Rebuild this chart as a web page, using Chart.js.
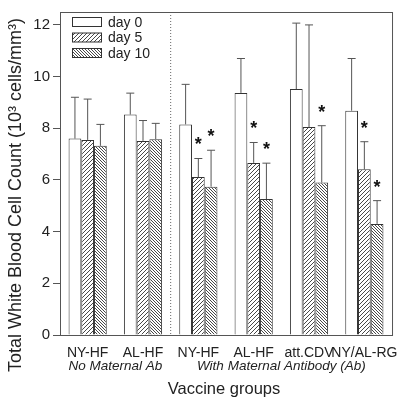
<!DOCTYPE html>
<html>
<head>
<meta charset="utf-8">
<script src="https://cdn.jsdelivr.net/npm/chart.js@4/dist/chart.umd.min.js"></script>
<style>
  html, body { margin: 0; padding: 0; background: #fff; }
  #wrap { width: 400px; height: 403px; }
</style>
</head>
<body>
<div id="wrap"><canvas id="wbcChart" width="400" height="403"></canvas></div>
<script>
// vaccine groups and the two antibody subgroups
const groups = ['NY-HF', 'AL-HF', 'NY-HF', 'AL-HF', 'att.CDV', 'NY/AL-RG'];
const subgroupLabels = ['No Maternal Ab', 'With Maternal Antibody (Ab)'];
const subgroupSpans = [[0, 1], [2, 5]];
const seriesNames = ['day 0', 'day 5', 'day 10'];
const yTicks = [0, 2, 4, 6, 8, 10, 12];

// mean WBC count (10^3 cells/mm^3)
const day0 = [7.6, 8.53, 8.15, 9.37, 9.52, 8.68];
const day5 = [7.55, 7.51, 6.11, 6.66, 8.05, 6.41];
const day10 = [7.32, 7.58, 5.74, 5.26, 5.9, 4.3];

// upper error (SD)
const sd0 = [1.6, 0.83, 1.55, 1.33, 2.55, 2.02];
const sd5 = [1.58, 0.79, 0.72, 0.79, 3.95, 1.07];
const sd10 = [0.83, 0.61, 1.41, 1.39, 2.2, 0.9];

// significant difference markers (*)
const sig0 = [0, 0, 0, 0, 0, 0];
const sig5 = [0, 0, 1, 1, 0, 1];
const sig10 = [0, 0, 1, 1, 1, 1];

const FONT = '"Liberation Sans", Arial, sans-serif';
const INK = '#222';
const LINE = '#555';

function hatch(dir, step) {
  const c = document.createElement('canvas');
  c.width = step; c.height = step;
  const g = c.getContext('2d');
  g.fillStyle = '#fff';
  g.fillRect(0, 0, step, step);
  g.strokeStyle = '#333';
  g.lineWidth = 0.9;
  g.beginPath();
  if (dir > 0) {
    g.moveTo(-1, step + 1); g.lineTo(step + 1, -1);
    g.moveTo(-1, 1); g.lineTo(1, -1);
    g.moveTo(step - 1, step + 1); g.lineTo(step + 1, step - 1);
  } else {
    g.moveTo(-1, -1); g.lineTo(step + 1, step + 1);
    g.moveTo(-1, step - 1); g.lineTo(1, step + 1);
    g.moveTo(step - 1, -1); g.lineTo(step + 1, 1);
  }
  g.stroke();
  return g.createPattern(c, 'repeat');
}

const fills = ['#fff', hatch(1, 4), hatch(-1, 3)];
const sds = [sd0, sd5, sd10];
const sigs = [sig0, sig5, sig10];

const extras = {
  id: 'extras',
  beforeDatasetsDraw(chart) {
    const { ctx, chartArea: a, scales: { x } } = chart;
    // dotted separator between subgroups
    const sx = (x.getPixelForValue(1) + x.getPixelForValue(2)) / 2;
    ctx.save();
    ctx.strokeStyle = '#666';
    ctx.lineWidth = 1;
    ctx.setLineDash([1, 2]);
    ctx.beginPath();
    ctx.moveTo(sx, a.top);
    ctx.lineTo(sx, a.bottom);
    ctx.stroke();
    ctx.restore();
  },
  afterDatasetsDraw(chart) {
    const { ctx, chartArea: a, scales: { x, y } } = chart;
    ctx.save();
    // error bars (upper only) and asterisks
    chart.data.datasets.forEach((ds, i) => {
      const meta = chart.getDatasetMeta(i);
      meta.data.forEach((bar, j) => {
        const top = y.getPixelForValue(ds.data[j] + sds[i][j]);
        ctx.strokeStyle = LINE;
        ctx.lineWidth = 1;
        ctx.beginPath();
        ctx.moveTo(bar.x, bar.y);
        ctx.lineTo(bar.x, top);
        ctx.moveTo(bar.x - 4, top);
        ctx.lineTo(bar.x + 4, top);
        ctx.stroke();
        if (sigs[i][j]) {
          ctx.fillStyle = '#111';
          ctx.font = 'bold 18px ' + FONT;
          ctx.textAlign = 'center';
          ctx.textBaseline = 'middle';
          ctx.fillText('*', bar.x, top - 13);
        }
      });
    });
    // frame
    ctx.strokeStyle = LINE;
    ctx.lineWidth = 1;
    ctx.strokeRect(a.left + 0.5, a.top + 0.5, a.right - a.left, a.bottom - a.top);

    // legend
    ctx.font = '14px ' + FONT;
    ctx.textAlign = 'left';
    ctx.textBaseline = 'middle';
    seriesNames.forEach((name, i) => {
      const cy = 22 + i * 15.5;
      ctx.fillStyle = fills[i];
      ctx.fillRect(72, cy - 4.5, 29, 9);
      ctx.strokeStyle = '#333';
      ctx.strokeRect(72.5, cy - 4.5, 29, 9);
      ctx.fillStyle = INK;
      ctx.fillText(name, 108, cy + 1);
    });

    // subgroup labels
    ctx.font = 'italic 13.5px ' + FONT;
    ctx.textAlign = 'center';
    subgroupLabels.forEach((lab, k) => {
      const [s, e] = subgroupSpans[k];
      const cx = (x.getPixelForValue(s) + x.getPixelForValue(e)) / 2;
      ctx.fillText(lab, cx, 366);
    });

    // axis titles
    ctx.font = '16.5px ' + FONT;
    ctx.fillText('Vaccine groups', 224, 389);
    ctx.font = '18px ' + FONT;
    ctx.translate(16, 195);
    ctx.rotate(-Math.PI / 2);
    ctx.fillText('Total White Blood Cell Count (10\u00B3 cells/mm\u00B3)', 0, 0);
    ctx.restore();
  }
};

new Chart(document.getElementById('wbcChart'), {
  type: 'bar',
  data: {
    labels: groups,
    datasets: seriesNames.map((name, i) => ({
      label: name,
      data: [day0, day5, day10][i],
      backgroundColor: fills[i],
      borderColor: '#333',
      borderWidth: 1,
      borderSkipped: 'bottom',
      barPercentage: 1,
      categoryPercentage: 0.69
    }))
  },
  options: {
    responsive: false,
    animation: false,
    layout: { padding: { top: 5, right: 7, left: 0, bottom: 0 } },
    plugins: { legend: { display: false }, tooltip: { enabled: false } },
    scales: {
      x: {
        grid: { display: false },
        border: { display: true, color: LINE },
        ticks: { color: INK, font: { family: FONT, size: 14 }, padding: 2, maxRotation: 0, autoSkip: false },
        afterFit(s) { s.height = 68; }
      },
      y: {
        min: 0,
        max: 12.5,
        afterBuildTicks(s) { s.ticks = yTicks.map(v => ({ value: v })); },
        grid: { drawOnChartArea: false, tickLength: 7, color: LINE },
        border: { display: true, color: LINE },
        ticks: { color: INK, font: { family: FONT, size: 15 }, padding: 3 },
        afterFit(s) { s.width = 60; }
      }
    }
  },
  plugins: [extras]
});
</script>
</body>
</html>
